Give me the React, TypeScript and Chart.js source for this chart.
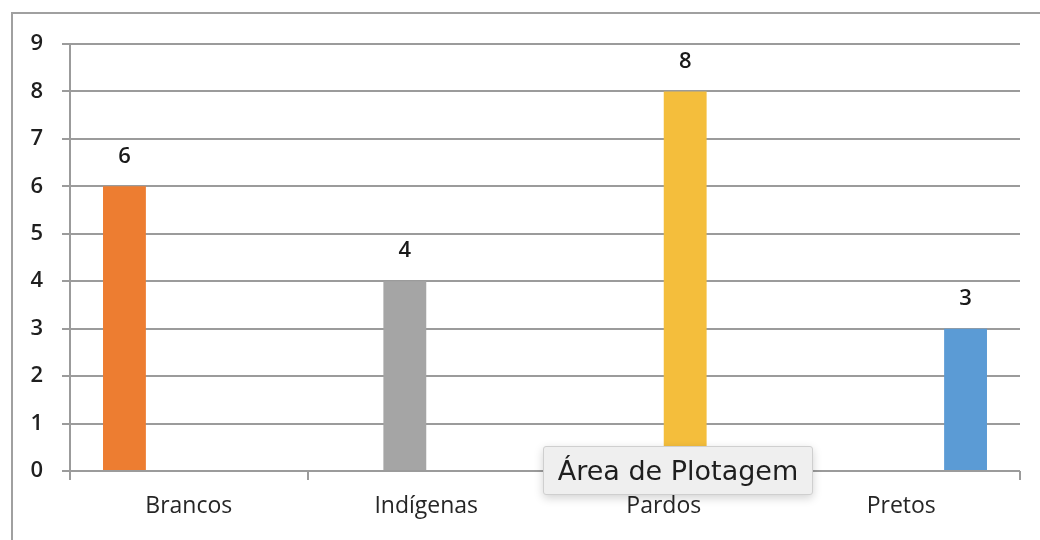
import React, { useEffect, useRef } from "react";
import { Chart, registerables } from "chart.js";

Chart.register(...registerables);

const categories = ["Brancos", "Indígenas", "Pardos", "Pretos"];
const brancos = [6, null, null, null];
const indigenas = [null, 4, null, null];
const pardos = [null, null, 8, null];
const pretos = [null, null, null, 3];
const seriesColors = ["#ED7D31", "#A5A5A5", "#F4BE3C", "#5B9BD5"];
const yTicks = [0, 1, 2, 3, 4, 5, 6, 7, 8, 9];
const tooltipText = "Área de Plotagem";

const FONT = "'Open Sans', Lato, sans-serif";

const framePlugin = {
  id: "frame",
  beforeDraw(chart: any) {
    const ctx = chart.ctx;
    ctx.save();
    ctx.fillStyle = "#ffffff";
    ctx.fillRect(0, 0, chart.width, chart.height);
    ctx.strokeStyle = "#a0a0a0";
    ctx.lineWidth = 2;
    ctx.strokeRect(12, 13, 1200, 700);
    ctx.restore();
  },
};

const valueLabelPlugin = {
  id: "valueLabels",
  afterDatasetsDraw(chart: any) {
    const ctx = chart.ctx;
    ctx.save();
    ctx.font = `600 22px ${FONT}`;
    ctx.fillStyle = "#1a1a1a";
    ctx.textAlign = "center";
    ctx.textBaseline = "middle";
    chart.data.datasets.forEach((ds: any, di: number) => {
      const meta = chart.getDatasetMeta(di);
      meta.data.forEach((el: any, i: number) => {
        const v = ds.data[i];
        if (v === null || v === undefined) return;
        ctx.fillText(String(v), el.x, el.y - 30);
      });
    });
    ctx.restore();
  },
};

export default function App() {
  const ref = useRef<HTMLCanvasElement>(null);
  useEffect(() => {
    if (!ref.current) return;
    const seriesData = [brancos, indigenas, pardos, pretos];
    const chart = new Chart(ref.current, {
      type: "bar",
      data: {
        labels: categories,
        datasets: seriesData.map((d, i) => ({
          label: categories[i],
          data: d as any,
          backgroundColor: seriesColors[i],
          borderWidth: 0,
          categoryPercentage: 0.722,
          barPercentage: 1,
        })),
      },
      options: {
        animation: false,
        responsive: false,
        maintainAspectRatio: false,
        layout: { padding: { top: 44, left: 0, right: 20, bottom: 0 } },
        plugins: {
          legend: { display: false },
          tooltip: { enabled: false },
        },
        scales: {
          x: {
            grid: {
              display: true,
              drawOnChartArea: false,
              drawTicks: true,
              tickLength: 9,
              color: "#9b9b9b",
              lineWidth: 2,
              offset: true,
            },
            border: { display: false },
            ticks: {
              padding: 13,
              color: "#262626",
              font: { family: FONT, size: 23, weight: 500 as any },
            },
            afterFit(scale: any) {
              scale.height = 69;
            },
          },
          y: {
            min: 0,
            max: 9,
            afterBuildTicks(scale: any) {
              scale.ticks = yTicks.map((v) => ({ value: v }));
            },
            grid: {
              color: "#9b9b9b",
              lineWidth: 2,
              tickLength: 8,
              drawTicks: true,
            },
            border: { display: true, color: "#9b9b9b", width: 2 },
            ticks: {
              padding: 19,
              color: "#1f1f1f",
              font: { family: FONT, size: 22, weight: 600 as any },
            },
            afterFit(scale: any) {
              scale.width = 70;
            },
          },
        },
      },
      plugins: [framePlugin, valueLabelPlugin],
    });
    return () => chart.destroy();
  }, []);

  return (
    <div style={{ position: "absolute", left: 0, top: 0, width: 1040, height: 540, overflow: "hidden" }}>
      <canvas ref={ref} width={1040} height={540} style={{ display: "block" }} />
      <div
        style={{
          position: "absolute",
          left: 543,
          top: 446,
          width: 270,
          height: 49,
          boxSizing: "border-box",
          background: "#efefef",
          border: "1px solid #cfcfcf",
          borderRadius: 3,
          boxShadow: "0 3px 10px rgba(0,0,0,0.18)",
          fontFamily: "'DejaVu Sans', sans-serif",
          fontSize: 27,
          color: "#1e1e1e",
          display: "flex",
          alignItems: "center",
          justifyContent: "center",
          whiteSpace: "nowrap",
        }}
      >
        {tooltipText}
      </div>
    </div>
  );
}
